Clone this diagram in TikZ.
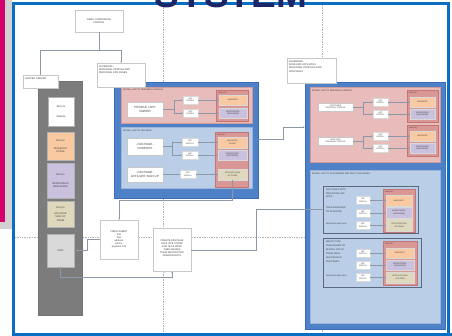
\documentclass[tikz,border=0pt]{standalone}
\usepackage{fontspec}
\setmainfont{Liberation Sans}
\usetikzlibrary{arrows.meta}
\definecolor{frameblue}{HTML}{0A6FC2}
\definecolor{titlenavy}{HTML}{1C2566}
\definecolor{slidemag}{HTML}{D4006E}
\definecolor{shadowgray}{HTML}{D2D2D2}
\definecolor{outerblue}{HTML}{4F81C9}
\definecolor{outerdraw}{HTML}{3B6CB7}
\definecolor{pinkfill}{HTML}{E8BCBB}
\definecolor{pinkdraw}{HTML}{D49A98}
\definecolor{lbluefill}{HTML}{BACFE7}
\definecolor{lbluedraw}{HTML}{9AB5D9}
\definecolor{modfill}{HTML}{D99795}
\definecolor{moddraw}{HTML}{C47573}
\definecolor{orfill}{HTML}{F9C9A2}
\definecolor{pufill}{HTML}{CAC1DE}
\definecolor{tanfill}{HTML}{DFD8BC}
\definecolor{crmgray}{HTML}{D9D9D9}
\definecolor{servergray}{HTML}{7C7C7C}
\definecolor{groupdraw}{HTML}{5A6A7E}
\definecolor{connclr}{HTML}{8C98A6}
\newcommand{\bx}[7]{\node[#1, minimum width={(#4)-(#2)}, minimum height={(#5)-(#3)}] (#6) at ({((#2)+(#4))/2},{((#3)+(#5))/2}) {#7};}
\tikzset{
  tx/.style={font=\fontsize{2.5}{3.1}\selectfont, text=black!75, align=center, inner sep=0pt, outer sep=0pt},
  txs/.style={tx, font=\fontsize{2.0}{2.5}\selectfont},
  txl/.style={tx, align=left},
  lbl/.style={tx, font=\fontsize{2.2}{2.6}\selectfont, text=black!80},
  modl/.style={tx, font=\fontsize{1.7}{2}\selectfont, text=black!75},
  wbox/.style={tx, draw=black!22, fill=white, line width=0.3pt},
  wbig/.style={wbox, font=\fontsize{3.0}{3.8}\selectfont},
  wsmall/.style={wbox, txs, draw=black!15},
  servercol/.style={draw=black!55, fill=servergray, line width=0.3pt, inner sep=0pt},
  outerbox/.style={draw=outerdraw, fill=outerblue, line width=0.5pt, inner sep=0pt},
  pinksec/.style={draw=pinkdraw, fill=pinkfill, line width=0.4pt, inner sep=0pt},
  bluesec/.style={draw=lbluedraw, fill=lbluefill, line width=0.4pt, inner sep=0pt},
  groupbox/.style={draw=groupdraw, fill=lbluefill, line width=0.5pt, inner sep=0pt},
  modcol/.style={draw=moddraw, fill=modfill, line width=0.4pt, inner sep=0pt},
  orbox/.style={tx, txs, draw=black!15, fill=orfill, line width=0.3pt},
  pubox/.style={tx, txs, draw=black!15, fill=pufill, line width=0.3pt},
  tanbox/.style={tx, txs, draw=black!15, fill=tanfill, line width=0.3pt},
  colbox/.style={tx, draw=black!30, line width=0.3pt},
  lane/.style={draw=black!30, line width=0.5pt, dash pattern=on 1pt off 0.7pt},
  conn/.style={draw=connclr, line width=0.45pt, -{Stealth[length=1.6pt,width=1.4pt]}},
  link/.style={draw=connclr, line width=0.4pt},
}
\begin{document}
\begin{tikzpicture}[x=1pt,y=-1pt]
\useasboundingbox (0,0) rectangle (452,336);
\clip (0,0) rectangle (452,336);
% slide background
\fill[white] (0,0) rectangle (452,336);
\fill[shadowgray] (0,0) rectangle (12,229);
\fill[slidemag] (0,0) rectangle (5,222);
% swim lanes
\draw[lane] (163,5) -- (163,332);
\draw[lane] (322,5) -- (322,332);
\draw[lane] (15,237) -- (446,237);
% frame
\draw[frameblue, line width=3pt] (13.5,336) -- (13.5,4) -- (448,4) -- (448,336);
\fill[frameblue] (12,332.5) rectangle (452,336);
\node[font=\fontsize{37}{37}\selectfont\bfseries, text=titlenavy, anchor=base, inner sep=0pt] (title) at (231,8) {SYSTEM};

% ---------- left lane ----------
\bx{wbox}{75}{10}{123}{32}{gmail}{GMAIL CORPORATE\\PROFILE}
\bx{servercol}{38}{81}{82}{315}{server}{}
\bx{wbox}{23}{75}{58}{88}{hosted}{}
\node[txl, anchor=north west] (hostedt) at (25,77.5) {HOSTED SERVER};
\bx{colbox, fill=white}{48}{97}{74}{126}{website}{\$60 pm\\[7pt]Website}
\bx{colbox, fill=orfill}{47}{132}{74}{160}{magento}{\$15 pm\\[5pt]MAGENTO\\STORE}
\bx{colbox, fill=pufill}{47}{163}{74}{198}{wordpress}{\$15 pm\\[6pt]WORDPRESS\\(MAGAZINE)}
\bx{colbox, fill=tanfill}{47}{201}{74}{227}{affform}{\$15 pm\\[3pt]AFFILIATE\\SIGN UP\\FORM}
\bx{colbox, fill=crmgray}{47}{234}{74}{267}{crm}{CRM}
\bx{wbox}{100}{220}{138}{259}{form}{FORM SUBMIT\\first\\last\\address\\phone\\payment info}
\bx{wbox}{153}{228}{191}{271.5}{create}{CREATE FAN PAGE\\AFFILIATE STORE\\FOR AFFILIATES\\THEN ASSIGN\\THEM RESTRICTED\\ADMIN RIGHTS\\.}

% ---------- centre box ----------
\bx{outerbox}{114}{82}{258}{198}{cbox}{}
\bx{pinksec}{121}{87}{252}{123}{csec1}{}
\node[lbl, anchor=west] (csec1l) at (123,90) {INSTALL APP TO PERSONAL PROFILE};
\bx{wbig}{127}{102}{163}{117}{prof}{PROFILE \textbar\ APP\\OWNER}
\bx{modcol}{216}{90}{248}{121}{mod1}{}
\node[modl, anchor=west] (mod1l) at (218,92.5) {MODULES};
\bx{orbox}{219}{95}{247}{105}{mag1}{MAGENTO}
\bx{pubox}{219}{108}{247}{118}{wp1}{WORDPRESS\\(MAGAZINE)}
\bx{wsmall}{183}{96}{198}{104}{ai1}{APP\\INSTALL}
\bx{wsmall}{183}{109}{198}{117}{ai2}{APP\\INSTALL}

\bx{bluesec}{121}{127}{252}{188}{csec2}{}
\node[lbl, anchor=west] (csec2l) at (123,130.5) {INSTALL APP TO FAN PAGE};
\bx{wbig}{127}{138}{163}{155}{fpc}{- FAN PAGE -\\COMPANY}
\bx{wbig}{127}{167}{163}{182}{fpa}{- FAN PAGE -\\AFFILIATE SIGN UP}
\bx{modcol}{215}{132}{248}{187}{mod2}{}
\node[modl, anchor=west] (mod2l) at (217,134.5) {MODULES};
\bx{orbox}{218}{137}{247}{148}{mag2}{MAGENTO\\STORE}
\bx{pubox}{218}{150}{247}{160}{wp2}{WORDPRESS\\(MAGAZINE)}
\bx{tanbox}{218}{169}{247}{180}{aff2}{AFFILIATE SIGN\\UP FORM}
\bx{wsmall}{182}{138.5}{198}{146.5}{ai3}{APP\\INSTALL}
\bx{wsmall}{182}{151}{198}{159}{ai4}{APP\\INSTALL}
\bx{wsmall}{180}{170.5}{196}{178.5}{ai5}{APP\\INSTALL}

\bx{wbox}{97}{63}{145}{87}{fbpersonal}{}
\node[txl, anchor=north west] (fbpersonalt) at (99,66) {FACEBOOK -\\PERSONAL PROFILE AND\\PERSONAL FAN PAGES};

% ---------- right box ----------
\bx{outerbox}{305}{82}{445}{329}{rbox}{}
\bx{pinksec}{310}{87}{440}{162}{rsec1}{}
\node[lbl, anchor=west] (rsec1l) at (312,90.5) {INSTALL APP TO PERSONAL PROFILE};
\bx{wbox, txs}{318}{103}{353}{111}{cpp}{CUSTOMER\\PERSONAL PROFILE}
\bx{modcol}{407}{90}{438}{122}{mod3}{}
\node[modl, anchor=west] (mod3l) at (409,93) {MODULES};
\bx{orbox}{410}{97}{435}{107}{mag3}{MAGENTO}
\bx{pubox}{410}{109}{435}{119}{wp3}{WORDPRESS\\(MAGAZINE)}
\bx{wsmall}{373}{98}{388}{106}{ai6}{APP\\INSTALL}
\bx{wsmall}{373}{110}{388}{118}{ai7}{APP\\INSTALL}
\bx{wbox, txs}{318}{137}{353}{145}{app}{AFFILIATE\\PERSONAL PROFILE}
\bx{modcol}{407}{125}{438}{156}{mod4}{}
\node[modl, anchor=west] (mod4l) at (409,128) {MODULES};
\bx{orbox}{410}{131}{435}{141}{mag4}{MAGENTO}
\bx{pubox}{410}{143}{435}{153}{wp4}{WORDPRESS\\(MAGAZINE)}
\bx{wsmall}{373}{132}{388}{140}{ai8}{APP\\INSTALL}
\bx{wsmall}{373}{144}{388}{152}{ai9}{APP\\INSTALL}

\bx{bluesec}{310}{170}{440}{323}{rsec2}{}
\node[lbl, anchor=west] (rsec2l) at (312,174) {INSTALL APP TO AUTHORIZED 3RD PARTY FAN PAGES};
\bx{groupbox}{323}{186}{418}{233}{g1}{}
\node[txl, anchor=north west, font=\fontsize{2.4}{3.6}\selectfont] (g1a) at (326,189) {FAN PAGES WITH\\PRE-INSTALLED\\APPS};
\node[txl, anchor=north west, font=\fontsize{2.4}{3.6}\selectfont] (g1b) at (326,207) {THEN ASSIGNED\\TO AFFILIATE};
\node[txl, anchor=north west, font=\fontsize{2.2}{3}\selectfont] (g1c) at (326,222.5) {Restricted admin priv.};
\bx{modcol}{383}{189}{415}{232}{mod5}{}
\node[modl, anchor=west] (mod5l) at (385,192) {MODULES};
\bx{orbox}{386}{195}{412}{206}{mag5}{MAGENTO}
\bx{pubox}{386}{207.5}{412}{218}{wp5}{WORDPRESS\\(MAGAZINE)}
\bx{tanbox}{386}{219.5}{412}{231}{aff5}{AFFILIATE SIGN\\UP FORM}
\bx{wsmall}{356}{196.5}{370}{204.5}{ai10}{APP\\INSTALL}
\bx{wsmall}{356}{208.75}{370}{216.75}{ai11}{APP\\INSTALL}
\bx{wsmall}{356}{221.25}{370}{229.25}{ai12}{APP\\INSTALL}

\bx{groupbox}{323}{238}{421}{287}{g2}{}
\node[txl, anchor=north west, font=\fontsize{2.4}{4.0}\selectfont] (g2a) at (326,241) {ABILITY FOR\\PUBLISHERS TO\\INSTALL ON TO\\THEIR OWN\\SUCCESSFUL\\FAN PAGES};
\node[txl, anchor=north west, font=\fontsize{2.2}{3}\selectfont] (g2b) at (326,274.5) {Restricted admin priv.};
\bx{modcol}{383}{241}{417}{285}{mod6}{}
\node[modl, anchor=west] (mod6l) at (385,244) {MODULES};
\bx{orbox}{386}{248}{414}{258}{mag6}{MAGENTO}
\bx{pubox}{386}{260}{414}{270}{wp6}{WORDPRESS\\(MAGAZINE)}
\bx{tanbox}{386}{272}{414}{283}{aff6}{AFFILIATE SIGN\\UP FORM}
\bx{wsmall}{356}{249}{370}{257}{ai13}{APP\\INSTALL}
\bx{wsmall}{356}{261}{370}{269}{ai14}{APP\\INSTALL}
\bx{wsmall}{356}{273.5}{370}{281.5}{ai15}{APP\\INSTALL}

\bx{wbox}{287}{58}{336}{83}{fbfan}{}
\node[txl, anchor=north west] (fbfant) at (289,61) {FACEBOOK -\\FANS AND AFFILIATES\\PERSONAL PROFILES AND\\FAN PAGES};

% ---------- connectors ----------
\coordinate (gsplit) at (99,50);
\draw[conn] (gmail.south) -- (gsplit) -| (hosted.north);
\draw[conn] (gsplit) -| (fbpersonal.north);

\coordinate (f1) at (174,109.5);
\draw[link] (prof.east) -- (f1);
\draw[conn] (f1) |- (ai1.west);
\draw[conn] (f1) |- (ai2.west);
\draw[conn] (ai1.east) -- (mag1.west);
\draw[conn] (ai2.east) -- (wp1.west);

\coordinate (f2) at (172,146.5);
\draw[link] (fpc.east) -- (f2);
\draw[conn] (f2) |- (ai3.west);
\draw[conn] (f2) |- (ai4.west);
\draw[conn] (ai3.east) -- (mag2.west);
\draw[conn] (ai4.east) -- (wp2.west);
\draw[conn] (fpa.east) -- (ai5.west);
\draw[conn] (ai5.east) -- (aff2.west);

\coordinate (f3) at (363,107);
\draw[link] (cpp.east) -- (f3);
\draw[conn] (f3) |- (ai6.west);
\draw[conn] (f3) |- (ai7.west);
\draw[conn] (ai6.east) -- (mag3.west);
\draw[conn] (ai7.east) -- (wp3.west);
\coordinate (f4) at (363,141);
\draw[link] (app.east) -- (f4);
\draw[conn] (f4) |- (ai8.west);
\draw[conn] (f4) |- (ai9.west);
\draw[conn] (ai8.east) -- (mag4.west);
\draw[conn] (ai9.east) -- (wp4.west);

\draw[conn] (ai10.east) -- (mag5.west);
\draw[conn] (ai11.east) -- (wp5.west);
\draw[conn] (ai12.east) -- (aff5.west);
\draw[conn] (ai13.east) -- (mag6.west);
\draw[conn] (ai14.east) -- (wp6.west);
\draw[conn] (ai15.east) -- (aff6.west);

\coordinate (y139) at (0,139);
\coordinate (y127) at (0,127);
\coordinate (y200) at (0,200);
\coordinate (y277) at (0,277);
\draw[conn] (cbox.east |- y139) -- (283,139) |- (rbox.west |- y127);
\draw[conn] (aff2.south) -- (aff2.south |- y200) -| (form.north);
\draw[conn] (crm.east) -- ++(13,0) |- (form.west);
\draw[conn] (crm.south) -- (crm.south |- y277) -| (create.south);
\draw[conn] (create.east) -- ++(65,0) |- (g1.west);
\end{tikzpicture}
\end{document}
